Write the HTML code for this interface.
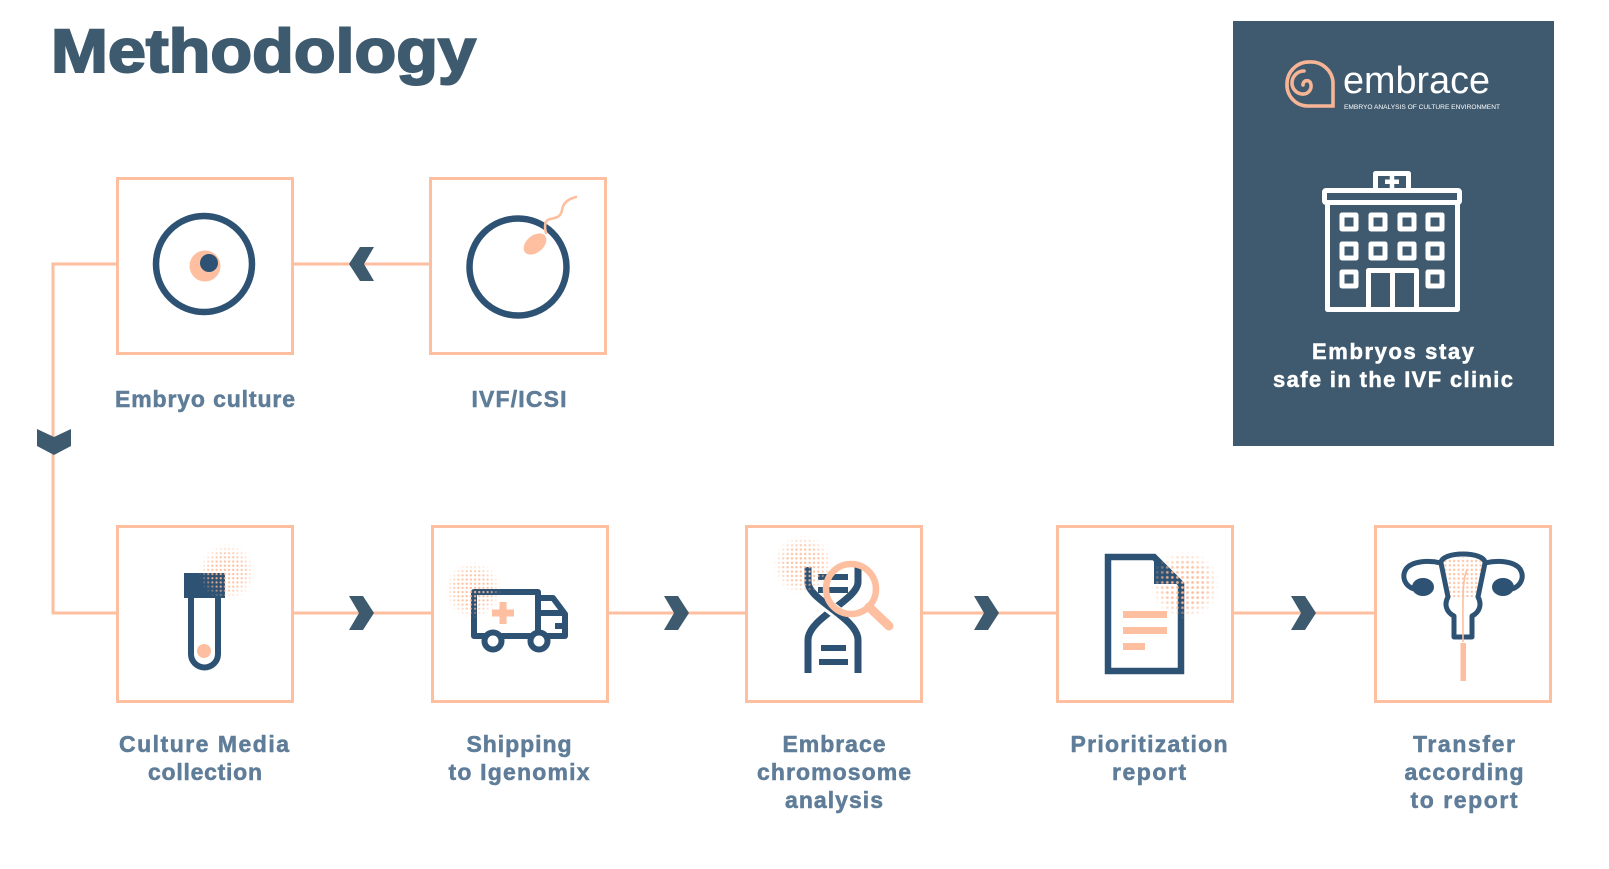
<!DOCTYPE html>
<html><head><meta charset="utf-8"><style>
html,body{margin:0;padding:0;background:#fff;}
body{width:1609px;height:869px;overflow:hidden;}
svg{display:block;font-family:"Liberation Sans",Arial,sans-serif;}
.lbl{font-size:23px;font-weight:bold;fill:#5f7d98;stroke:#5f7d98;stroke-width:0.55;}
</style></head><body>
<svg width="1609" height="869" viewBox="0 0 1609 869" xmlns="http://www.w3.org/2000/svg">
<defs>
  <pattern id="dots" width="4.4" height="4.4" patternUnits="userSpaceOnUse">
    <circle cx="2.2" cy="2.2" r="1.2" fill="#fdb995"/>
  </pattern>
  <radialGradient id="fade">
    <stop offset="0" stop-color="#fff" stop-opacity="1"/>
    <stop offset="0.6" stop-color="#fff" stop-opacity="0.85"/>
    <stop offset="1" stop-color="#fff" stop-opacity="0"/>
  </radialGradient>
  <mask id="hm" maskUnits="userSpaceOnUse" x="-60" y="-60" width="120" height="120">
    <circle cx="0" cy="0" r="30" fill="url(#fade)"/>
  </mask>
  <g id="halo"><circle cx="0" cy="0" r="30" fill="url(#dots)" mask="url(#hm)"/></g>
  <clipPath id="ut"><path d="M1443,563 C1443,555 1483,555 1483,563 L1477,597 L1449,597 Z"/></clipPath>
</defs>

<!-- Title -->
<text x="51" y="72" font-size="61" font-weight="bold" fill="#3e5a6e" stroke="#3e5a6e" stroke-width="2" textLength="425" lengthAdjust="spacingAndGlyphs">Methodology</text>

<!-- connectors -->
<g stroke="#fdbf9f" stroke-width="3" fill="none">
  <path d="M116,264 H53 V613 H116"/>
  <line x1="293" y1="264" x2="429" y2="264"/>
  <line x1="293" y1="613" x2="431" y2="613"/>
  <line x1="608" y1="613" x2="745" y2="613"/>
  <line x1="923" y1="613" x2="1056" y2="613"/>
  <line x1="1233" y1="613" x2="1374" y2="613"/>
</g>

<!-- boxes -->
<g stroke="#fdbf9f" stroke-width="3" fill="#fff">
  <rect x="117.5" y="178.5" width="175" height="175"/>
  <rect x="430.5" y="178.5" width="175" height="175"/>
  <rect x="117.5" y="526.5" width="175" height="175"/>
  <rect x="432.5" y="526.5" width="175" height="175"/>
  <rect x="746.5" y="526.5" width="175" height="175"/>
  <rect x="1057.5" y="526.5" width="175" height="175"/>
  <rect x="1375.5" y="526.5" width="175" height="175"/>
</g>

<!-- chevrons -->
<g fill="#3e5a6e">
  <polygon points="374,247 360,247 349,264 360,281 374,281 364,264"/>
  <polygon points="37,429 54,437 71,429 71,446 54,455 37,446"/>
  <polygon points="349,596 363,596 374,613 363,630 349,630 359,613"/>
  <polygon points="664,596 678,596 689,613 678,630 664,630 674,613"/>
  <polygon points="974,596 988,596 999,613 988,630 974,630 984,613"/>
  <polygon points="1291,596 1305,596 1316,613 1305,630 1291,630 1301,613"/>
</g>

<!-- Embryo culture icon -->
<circle cx="204" cy="264" r="48" fill="none" stroke="#2d5273" stroke-width="6.5"/>
<circle cx="205" cy="266" r="15.5" fill="#fdbf9f"/>
<circle cx="209" cy="263" r="9" fill="#2d5273"/>

<!-- IVF icon -->
<circle cx="518" cy="267" r="48.5" fill="none" stroke="#2d5273" stroke-width="6.5"/>
<path d="M546,233 C544,226 545,220 550,219 C556,218 561,217 562,210 C563,203 568,199 576,197" fill="none" stroke="#fdbf9f" stroke-width="2.6" stroke-linecap="round"/>
<ellipse cx="535" cy="244" rx="13" ry="8.5" transform="rotate(-40 535 244)" fill="#fdbf9f"/>

<!-- Test tube -->
<path d="M191,598 V654 A13.5,13.5 0 0 0 218,654 V598" fill="none" stroke="#2d5273" stroke-width="6"/>
<rect x="184" y="573" width="41" height="25" fill="#2d5273"/>
<circle cx="204" cy="651" r="7" fill="#fdbf9f"/>
<use href="#halo" transform="translate(227,572) scale(0.95)"/>

<!-- Truck -->
<g fill="none" stroke="#2d5273" stroke-width="6" stroke-linejoin="round">
  <path d="M474,592 H538 V636 H474 Z"/>
  <path d="M538,598 H553 L565,614 V636 H538"/>
  <line x1="538" y1="613" x2="563" y2="613"/>
  <line x1="555" y1="626" x2="565" y2="626"/>
</g>
<circle cx="493" cy="641" r="8.5" fill="#fff" stroke="#2d5273" stroke-width="6"/>
<circle cx="539" cy="641" r="8.5" fill="#fff" stroke="#2d5273" stroke-width="6"/>
<rect x="492" y="609.5" width="22" height="7" fill="#fdbf9f"/>
<rect x="499.5" y="602" width="7" height="22" fill="#fdbf9f"/>
<use href="#halo" transform="translate(473,590) scale(0.95)"/>

<!-- DNA -->
<g fill="none" stroke="#2d5273" stroke-width="7">
  <path d="M858,567 V582 C858,600 808,618 808,640 V673"/>
  <path d="M808,567 V582 C808,600 858,618 858,640 V673" stroke="#fff" stroke-width="13"/>
  <path d="M808,567 V582 C808,600 858,618 858,640 V673"/>
</g>
<g fill="#2d5273">
  <rect x="818" y="574" width="30" height="6"/>
  <rect x="818" y="587" width="30" height="6"/>
  <rect x="821" y="645" width="25" height="6"/>
  <rect x="819" y="659" width="29" height="6"/>
</g>
<use href="#halo" transform="translate(803,565)"/>
<circle cx="851" cy="589" r="25" fill="none" stroke="#fdbf9f" stroke-width="6.5"/>
<line x1="869" y1="607" x2="889" y2="626" stroke="#fdbf9f" stroke-width="9" stroke-linecap="round"/>

<!-- Document -->
<path d="M1108,557 H1154 L1181,584 V671 H1108 Z" fill="none" stroke="#2d5273" stroke-width="6.5" stroke-linejoin="miter"/>
<polygon points="1154,557 1181,584 1154,584" fill="#2d5273"/>
<rect x="1123" y="611" width="44" height="7" fill="#fdbf9f"/>
<rect x="1123" y="627" width="44" height="7" fill="#fdbf9f"/>
<rect x="1123" y="643" width="22" height="7" fill="#fdbf9f"/>
<use href="#halo" transform="translate(1185,585) scale(1.15)"/>

<!-- Uterus -->
<rect x="1443" y="553" width="42" height="48" fill="url(#dots)" clip-path="url(#ut)" opacity="0.85"/>
<g fill="none" stroke="#2d5273" stroke-width="5" stroke-linejoin="round">
  <path d="M1441,563 C1441,551 1485,551 1485,563 L1478,597 C1482,604 1480,612 1472,616 V637 H1454 V616 C1446,612 1444,604 1448,597 Z"/>
  <path d="M1441,563 C1428,560 1412,561 1406,569 C1401,577 1405,586 1414,589"/>
  <path d="M1485,563 C1498,560 1514,561 1520,569 C1525,577 1521,586 1512,589"/>
</g>
<ellipse cx="1423" cy="587" rx="11" ry="9" fill="#2d5273"/>
<ellipse cx="1503" cy="587" rx="11" ry="9" fill="#2d5273"/>
<path d="M1467,570 C1462,580 1463,600 1463,642" fill="none" stroke="#fdbf9f" stroke-width="1.6"/>
<rect x="1460.5" y="643" width="5.5" height="38" fill="#fdbf9f"/>

<!-- Labels -->
<g class="lbl" text-anchor="middle">
  <text x="205" y="407" textLength="180" lengthAdjust="spacing">Embryo culture</text>
  <text x="519" y="407" textLength="95" lengthAdjust="spacing">IVF/ICSI</text>

  <text x="204" y="752" textLength="170" lengthAdjust="spacing">Culture Media</text>
  <text x="205" y="780" textLength="114" lengthAdjust="spacing">collection</text>

  <text x="519" y="752" textLength="105" lengthAdjust="spacing">Shipping</text>
  <text x="519" y="780" textLength="141" lengthAdjust="spacing">to Igenomix</text>

  <text x="834" y="752" textLength="103" lengthAdjust="spacing">Embrace</text>
  <text x="834" y="780" textLength="154" lengthAdjust="spacing">chromosome</text>
  <text x="834" y="808" textLength="98" lengthAdjust="spacing">analysis</text>

  <text x="1149" y="752" textLength="157" lengthAdjust="spacing">Prioritization</text>
  <text x="1149" y="780" textLength="74" lengthAdjust="spacing">report</text>

  <text x="1464" y="752" textLength="102" lengthAdjust="spacing">Transfer</text>
  <text x="1464" y="780" textLength="119" lengthAdjust="spacing">according</text>
  <text x="1464" y="808" textLength="107" lengthAdjust="spacing">to report</text>
</g>

<!-- Right panel -->
<rect x="1233" y="21" width="321" height="425" fill="#3f5a6e"/>
<!-- logo -->
<g fill="none" stroke="#f7b595" stroke-width="3.6" stroke-linecap="round">
  <path d="M1333,106 H1307 A21,21 0 0 1 1287,84 A22,22 0 0 1 1310,62 A22,22 0 0 1 1333,82 Z" stroke-linejoin="miter"/>
  <path d="M1303,85 A4,4 0 0 1 1310,82 A8,8 0 0 1 1302,94 A11,11 0 0 1 1292,83 A12,12 0 0 1 1304,71"/>
</g>
<text x="1343" y="93" font-size="38" fill="#fff" textLength="147" lengthAdjust="spacingAndGlyphs">embrace</text>
<text x="1344" y="109" font-size="6.5" fill="#fff" textLength="156" lengthAdjust="spacingAndGlyphs">EMBRYO ANALYSIS OF CULTURE ENVIRONMENT</text>

<!-- hospital -->
<g fill="none" stroke="#fff" stroke-width="5" stroke-linejoin="round">
  <rect x="1324.5" y="190.5" width="135" height="12" rx="1.5"/>
  <rect x="1327.5" y="202.5" width="130" height="107"/>
  <rect x="1375.5" y="173.5" width="33" height="17" fill="#3f5a6e"/>
  <rect x="1342" y="215" width="14" height="14"/>
  <rect x="1371" y="215" width="14" height="14"/>
  <rect x="1400" y="215" width="14" height="14"/>
  <rect x="1428" y="215" width="14" height="14"/>
  <rect x="1342" y="244" width="14" height="14"/>
  <rect x="1371" y="244" width="14" height="14"/>
  <rect x="1400" y="244" width="14" height="14"/>
  <rect x="1428" y="244" width="14" height="14"/>
  <rect x="1342" y="272" width="14" height="14"/>
  <rect x="1428" y="272" width="14" height="14"/>
  <rect x="1368.5" y="270.5" width="48" height="39"/>
  <line x1="1392.5" y1="270" x2="1392.5" y2="310"/>
</g>
<rect x="1385" y="179.5" width="14" height="4.5" fill="#fff"/>
<rect x="1389.75" y="175" width="4.5" height="13.5" fill="#fff"/>

<g font-size="22" font-weight="bold" fill="#fff" stroke="#fff" stroke-width="0.5" text-anchor="middle">
  <text x="1393" y="359" textLength="162" lengthAdjust="spacing">Embryos stay</text>
  <text x="1393" y="387" textLength="240" lengthAdjust="spacing">safe in the IVF clinic</text>
</g>
</svg>
</body></html>
